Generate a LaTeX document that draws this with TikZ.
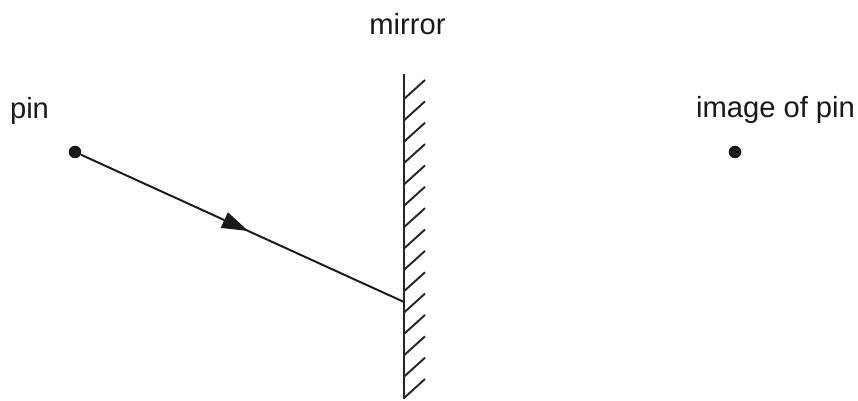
\documentclass[tikz,border=0pt]{standalone}
\usepackage{fontspec}
\setmainfont{Liberation Sans}
\usetikzlibrary{arrows.meta,decorations.markings}
\begin{document}
\begin{tikzpicture}
        [x=0.02cm, y=-0.02cm,
        dot/.style={circle,fill=black!90,inner sep=0pt,minimum size=0.25cm},
        label/.style={font=\fontsize{16.6pt}{20pt}\selectfont, text=black!90, anchor=base, inner sep=0pt},
        mirror/.style={black!85, line width=1.1pt},
        hatch/.style={black!85, line width=1.1pt},
        ray/.style={black!90, line width=1.1pt, postaction={decorate},
            decoration={markings, mark=at position 0.518 with {\arrow{Triangle[length=15pt,width=9.5pt]}}}}]

        \useasboundingbox (0,0) rectangle (858,401);

        \node[label] (pinlabel) at (29.5,119) {pin};
        \node[label] (mirrorlabel) at (407.5,35) {mirror};
        \node[label] (imagelabel) at (775.5,118) {image of pin};

        \node[dot] (pin) at (75,152) {};
        \node[dot] (image) at (735,152) {};

        \coordinate (top) at (404,74);
        \coordinate (bottom) at (404,399);
        \coordinate (hit) at (404,302);

        % mirror with its hatching
        \draw[mirror] (top) -- (bottom);
        \foreach \i in {0,...,14}
            \draw[hatch] (404,99+21.36*\i) -- (425,80+21.36*\i);

        % ray from the pin
        \draw[ray] (pin) -- (hit);

    \end{tikzpicture}
\end{document}
